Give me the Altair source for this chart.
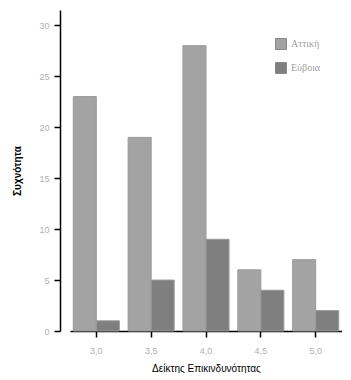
import altair as alt
import pandas as pd

categories = ["3,0", "3,5", "4,0", "4,5", "5,0"]
series = ["Αττική", "Εύβοια"]
attiki = [23, 19, 28, 6, 7]
evvoia = [1, 5, 9, 4, 2]

rows = []
for i, c in enumerate(categories):
    rows.append({"cat": c, "region": series[0], "value": attiki[i]})
    rows.append({"cat": c, "region": series[1], "value": evvoia[i]})
df = pd.DataFrame(rows)

chart = alt.Chart(df).mark_bar(stroke="#9a9a9a", strokeWidth=1).encode(
    x=alt.X("cat:N", sort=categories,
            scale=alt.Scale(paddingInner=0.16, paddingOuter=0.06),
            axis=alt.Axis(title="Δείκτης Επικινδυνότητας", labelAngle=0,
                          labelColor="#b0b0b0", labelFont="Liberation Sans", labelFontSize=9,
                          titleFont="Liberation Sans", titleFontSize=10, titleFontWeight="normal",
                          titleColor="#000", domainColor="#000", tickColor="#000",
                          tickSize=6, tickWidth=1.5, domainWidth=1.5, labelPadding=9, titlePadding=8,
                          bandPosition=0.5)),
    xOffset=alt.XOffset("region:N", sort=series),
    y=alt.Y("value:Q", scale=alt.Scale(domain=[0, 31.5], nice=False),
            axis=alt.Axis(title="Συχνότητα", values=[0, 5, 10, 15, 20, 25, 30],
                          labelColor="#b0b0b0", labelFont="Liberation Sans", labelFontSize=9,
                          titleFont="Liberation Sans", titleFontSize=10, titleFontWeight="bold",
                          titleColor="#000", domainColor="#000", tickColor="#000",
                          tickSize=6, tickWidth=1.5, domainWidth=1.5, offset=10,
                          labelPadding=5, titlePadding=16, grid=False)),
    color=alt.Color("region:N", sort=series,
                    scale=alt.Scale(domain=series, range=["#a3a3a3", "#7f7f7f"]),
                    legend=alt.Legend(title=None, orient="none", legendX=205, legendY=28,
                                      symbolType="square", symbolSize=120,
                                      symbolStrokeColor="#888", symbolStrokeWidth=1,
                                      labelFont="Liberation Serif", labelFontSize=10,
                                      labelColor="#a0a0a0", rowPadding=8)),
).properties(width=272, height=321, padding={"left": 4, "top": 2, "right": 0, "bottom": 0}
).configure_view(stroke=None)

chart.save("out.html", embed_options={"renderer": "svg", "actions": False})
